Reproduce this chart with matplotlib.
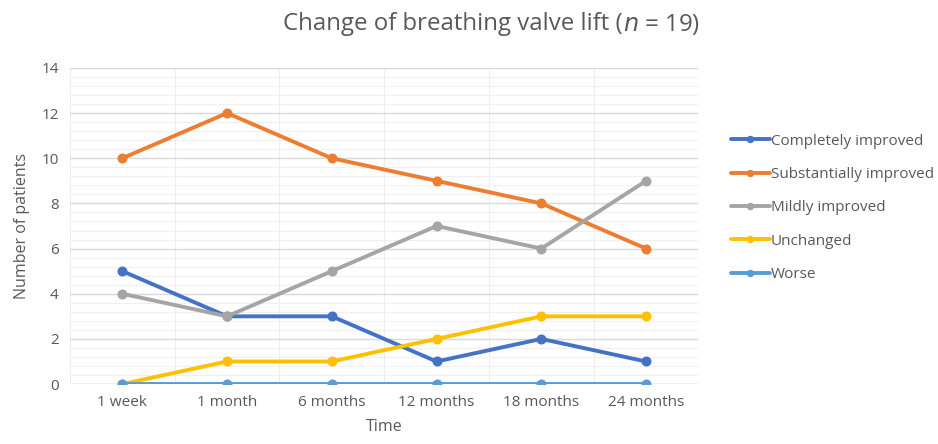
import matplotlib as mpl

mpl.use("Agg")

import matplotlib.pyplot as plt
import numpy as np
from matplotlib.ticker import MultipleLocator

TIMES = ["1 week", "1 month", "6 months", "12 months", "18 months", "24 months"]
COMPLETELY = [5, 3, 3, 1, 2, 1]
SUBSTANTIALLY = [10, 12, 10, 9, 8, 6]
MILDLY = [4, 3, 5, 7, 6, 9]
UNCHANGED = [0, 1, 1, 2, 3, 3]
WORSE = [0, 0, 0, 0, 0, 0]

SERIES = [
    ("Completely improved", COMPLETELY, "#4472C4"),
    ("Substantially improved", SUBSTANTIALLY, "#ED7D31"),
    ("Mildly improved", MILDLY, "#A5A5A5"),
    ("Unchanged", UNCHANGED, "#FFC000"),
    ("Worse", WORSE, "#5B9BD5"),
]

TEXT = "#595959"
mpl.rcParams["font.family"] = ["Open Sans", "DejaVu Sans"]

fig = plt.figure(figsize=(9.38, 4.44), dpi=100)
ax = fig.add_axes([0.0746, 0.135, 0.67, 0.712])

x = np.arange(len(TIMES))
handles = []
for name, vals, color in SERIES:
    (h,) = ax.plot(x, vals, color=color, lw=2.8, marker="o", ms=6.2, label=name,
                   solid_capstyle="round", zorder=3)
    handles.append(h)

ax.set_xlim(-0.5, len(TIMES) - 0.5)
ax.set_ylim(0, 14)
ax.set_xticks(x)
ax.set_xticklabels(TIMES)
ax.xaxis.set_minor_locator(MultipleLocator(0.5))
ax.yaxis.set_major_locator(MultipleLocator(2))
ax.yaxis.set_minor_locator(MultipleLocator(0.4))
ax.grid(which="major", axis="y", color="#D9D9D9", lw=1.0, zorder=0)
ax.grid(which="minor", axis="y", color="#F0F0F0", lw=0.8, zorder=0)
ax.grid(which="minor", axis="x", color="#EDEDED", lw=0.8, zorder=0)
ax.tick_params(which="both", length=0, colors=TEXT, labelsize=11, pad=8)
for s in ax.spines.values():
    s.set_visible(False)
ax.axhline(0, color="#D9D9D9", lw=1.0, zorder=1)

ax.set_xlabel("Time", fontsize=11.5, color=TEXT, labelpad=6)
ax.set_ylabel("Number of patients", fontsize=11.5, color=TEXT, labelpad=8)

fig.text(0.664, 0.945, "Change of breathing valve lift (", fontsize=17.3, color=TEXT,
         ha="right", va="center")
fig.text(0.664, 0.945, r"$\it{n}$ = 19)", fontsize=17.3, color=TEXT, ha="left", va="center")

fig.legend(handles=handles, loc="upper left", bbox_to_anchor=(0.765, 0.73), frameon=False,
           fontsize=11, labelcolor=TEXT, handlelength=2.5, handletextpad=0.1,
           labelspacing=1.2, markerscale=0.7)

fig.savefig("out.png", dpi=100)
